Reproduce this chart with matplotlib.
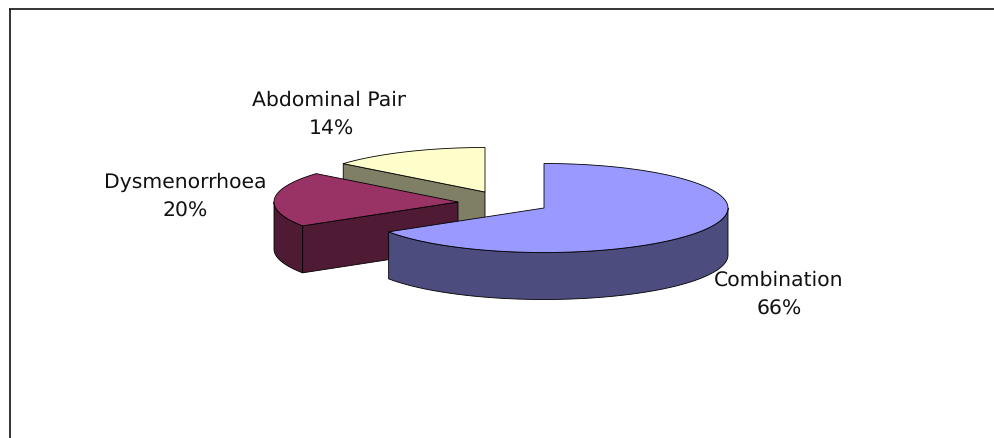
import numpy as np
import matplotlib
matplotlib.use("Agg")
import matplotlib.pyplot as plt
from matplotlib.patches import Polygon, Rectangle

plt.rcParams["text.hinting"] = "none"

# Data
labels = ["Combination", "Dysmenorrhoea", "Abdominal Pain"]
percents = [66, 20, 14]

# Pie styles, drawn back to front below
top_colors = ["#9999FF", "#993366", "#FFFFCC"]
wall_colors = ["#4C4C7F", "#4F1A33", "#7F7F66"]
centers = [(544, 209), (458, 203), (485, 193)]
label_pos = [(779, 295), (185.5, 197), (331, 115)]
label_clip_right = [842, 300, 406]

rx = 184
ry = 44.5
depth = 47


def arc(cx, cy, a0, a1):
    # angles in degrees clockwise from 12 o'clock
    t = np.radians(np.linspace(a0, a1, 200))
    return np.column_stack([cx + rx * np.sin(t), cy - ry * np.cos(t)])


fig = plt.figure(figsize=(9.94, 4.39), dpi=100)
ax = fig.add_axes([0, 0, 1, 1])
ax.set_xlim(0, 994)
ax.set_ylim(439, 0)
ax.axis("off")

# frame: only left and top are inside the image
ax.plot([10, 10], [439, 9.5], color="#333333", lw=1.4, solid_capstyle="butt")
ax.plot([9, 994], [9.5, 9.5], color="black", lw=1.1, solid_capstyle="butt")

stops = np.cumsum([0] + percents) * 3.6
edge = dict(edgecolor="black", linewidth=0.6)

for i in [2, 1, 0]:
    a0, a1 = stops[i], stops[i + 1]
    cx, cy = centers[i]
    down = np.array([0, depth])
    apex = np.array([cx, cy])
    outer = arc(cx, cy, a0, a1)

    # cut face on the leading side, seen from the front for the back slices
    if i > 0:
        p = outer[0]
        ax.add_patch(Polygon([p, apex, apex + down, p + down],
                             facecolor=wall_colors[i], **edge))

    # outer wall, only the part that faces the viewer (90..270 deg)
    lo, hi = max(a0, 90), min(a1, 270)
    if hi > lo:
        w = arc(cx, cy, lo, hi)
        ax.add_patch(Polygon(np.vstack([w, (w + down)[::-1]]),
                             facecolor=wall_colors[i], **edge))

    ax.add_patch(Polygon(np.vstack([apex, outer]), closed=True,
                         facecolor=top_colors[i], **edge))

    x, y = label_pos[i]
    txt = ax.text(x, y, f"{labels[i]}\n{percents[i]}%", ha="center", va="center",
                  fontsize=14.7, family="DejaVu Sans", color="#111111",
                  linespacing=1.65)
    txt.set_clip_path(Rectangle((0, 0), label_clip_right[i], 439, transform=ax.transData))
    txt.set_clip_on(True)

fig.savefig("out.png", dpi=100)
